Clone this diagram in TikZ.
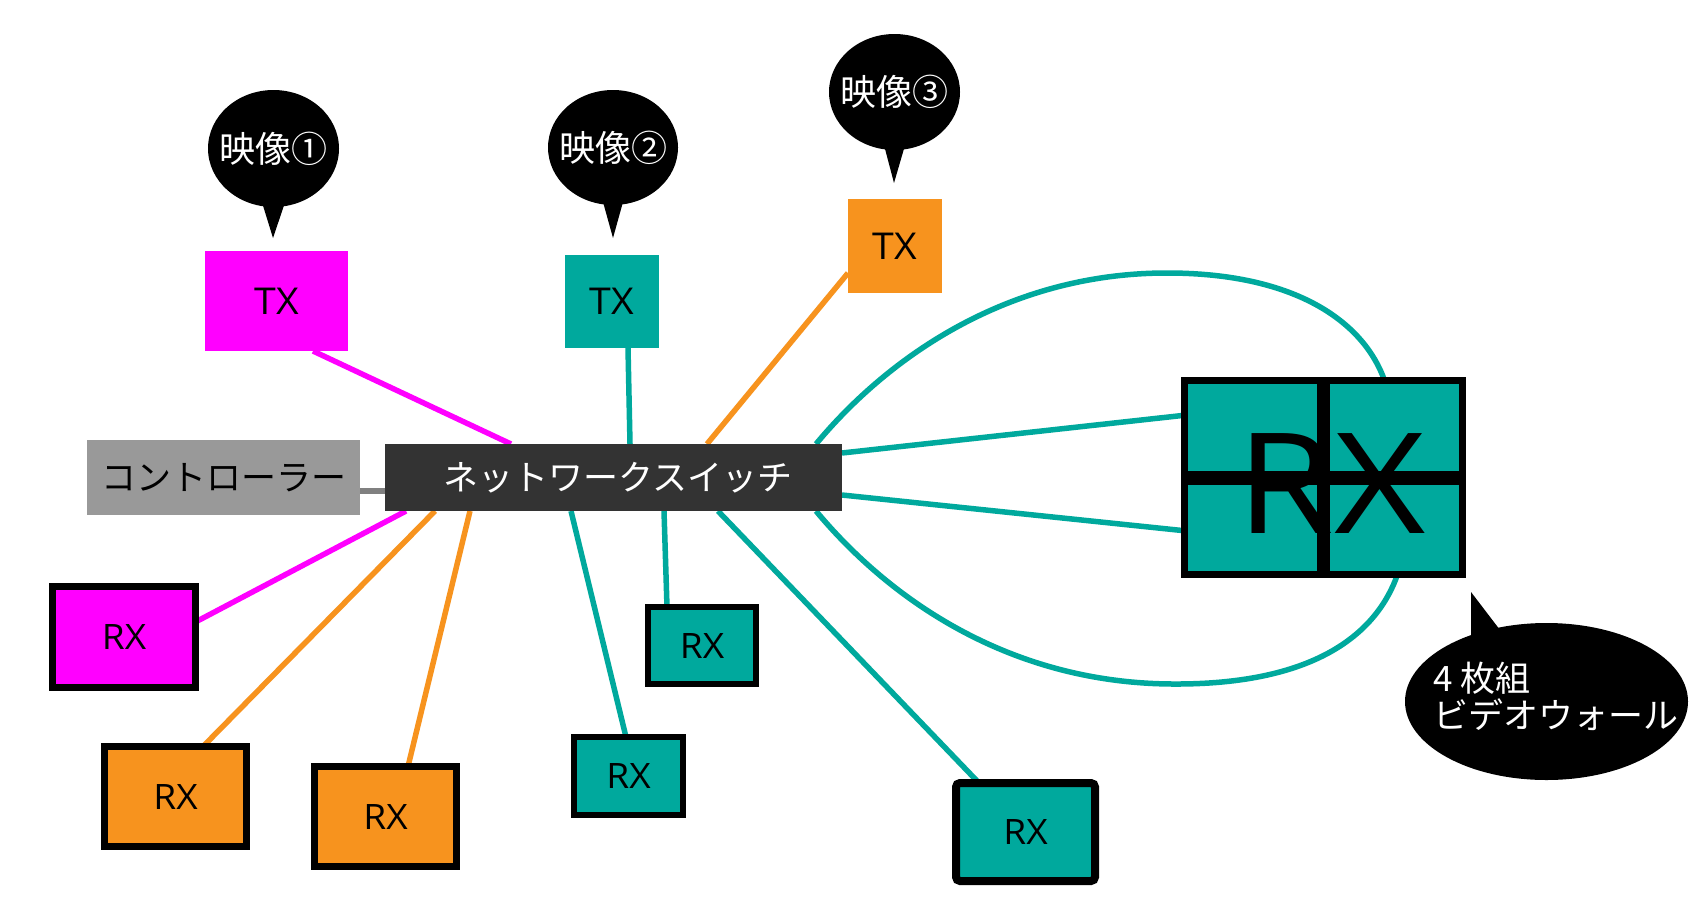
\documentclass[tikz,border=0pt]{standalone}
\usepackage{fontspec}
\setmainfont{Noto Sans CJK JP}
\newfontfamily\latinfont[FakeStretch=1.06]{Open Sans}
\newfontfamily\biglatinfont[FakeStretch=1.13]{Open Sans}
\usetikzlibrary{calc,shapes.geometric}
\definecolor{mag}{HTML}{FF00FF}
\definecolor{tealc}{HTML}{00A99D}
\definecolor{orng}{HTML}{F7931E}
\definecolor{ctrlgray}{HTML}{999999}
\definecolor{swgray}{HTML}{333333}
\definecolor{wiregray}{HTML}{808080}
\pgfdeclarelayer{back}
\pgfdeclarelayer{background}
\pgfsetlayers{back,background,main}
\begin{document}
\begin{tikzpicture}[x=1pt,y=-1pt,
  txbox/.style={rectangle, inner sep=0pt, outer sep=0pt, font=\latinfont\fontsize{37}{40}\selectfont},
  rxbox/.style={rectangle, draw=black, line width=6.5pt, inner sep=0pt, outer sep=0pt, font=\latinfont\fontsize{35}{40}\selectfont},
  wire/.style={line width=5.5pt},
  bubble/.style={ellipse, fill=black, inner sep=0pt, outer sep=0pt},
  bubtxt/.style={text=white, font=\fontsize{36}{40}\selectfont, inner sep=0pt},
  panel/.style={rectangle, draw=black, fill=tealc, line width=7pt, minimum width=136pt, minimum height=93.5pt, inner sep=0pt, outer sep=0pt}
]
\useasboundingbox (0,0) rectangle (1705,921);
\begin{pgfonlayer}{back}
\fill[white] (0,0) rectangle (1705,921);
\end{pgfonlayer}

% speech bubbles
\node[bubble, minimum width=131pt, minimum height=117pt] (b1) at (273.5,148.5) {};
\node[bubtxt] (t1) at (b1) {映像①};
\coordinate (b1tip) at (273,238);
\fill ([xshift=-11pt,yshift=3pt]b1.south) -- (b1tip) -- ([xshift=11pt,yshift=3pt]b1.south) -- cycle;

\node[bubble, minimum width=130pt, minimum height=115pt] (b2) at (613,147.5) {};
\node[bubtxt] (t2) at (b2) {映像②};
\coordinate (b2tip) at (613,238);
\fill ([xshift=-10pt,yshift=3pt]b2.south) -- (b2tip) -- ([xshift=10pt,yshift=3pt]b2.south) -- cycle;

\node[bubble, minimum width=131pt, minimum height=116pt] (b3) at (894.5,92) {};
\node[bubtxt] (t3) at (b3) {映像③};
\coordinate (b3tip) at (894,183);
\fill ([xshift=-10pt,yshift=3pt]b3.south) -- (b3tip) -- ([xshift=10pt,yshift=3pt]b3.south) -- cycle;

\node[bubble, minimum width=283pt, minimum height=157pt] (b4) at (1546.5,701.5) {};
\coordinate (b4tip) at (1471,592);
\fill (b4tip) -- (1471,640) -- (1500,630) -- cycle;
\node[bubtxt, anchor=west, align=left, font=\fontsize{35}{37}\selectfont] (t4) at (1433,696) {4 枚組\\ビデオウォール};

% transmitters
\node[txbox, fill=mag, minimum width=143pt, minimum height=100pt] (tx1) at (276.5,301) {TX};
\node[txbox, fill=tealc, minimum width=94pt, minimum height=93pt] (tx2) at (612,301.5) {TX};
\node[txbox, fill=orng, minimum width=94pt, minimum height=94pt] (tx3) at (895,246) {TX};

% controller and switch
\node[rectangle, fill=ctrlgray, minimum width=273pt, minimum height=75pt, inner sep=0pt, outer sep=0pt, font=\fontsize{35}{40}\selectfont] (ctrl) at (223.5,477.5) {コントローラー};
\node[rectangle, fill=swgray, text=white, minimum width=457pt, minimum height=67pt, inner sep=0pt, outer sep=0pt, font=\fontsize{35}{40}\selectfont] (sw) at (613.5,477.5) {\hspace*{8pt}ネットワークスイッチ};

% receivers
\node[rxbox, fill=mag, minimum width=143pt, minimum height=101pt] (rx1) at (124,637) {RX};
\node[rxbox, fill=orng, minimum width=142pt, minimum height=100pt] (rx2) at (175.5,796.5) {RX};
\node[rxbox, fill=orng, minimum width=142pt, minimum height=100pt] (rx3) at (385.5,816.5) {RX};
\node[rxbox, fill=tealc, line width=6pt, minimum width=109pt, minimum height=78pt] (rx4) at (628.5,776) {RX};
\node[rxbox, fill=tealc, line width=6pt, minimum width=108pt, minimum height=77pt] (rx5) at (702,645.5) {RX};
\node[rxbox, fill=tealc, line width=8pt, rounded corners=4pt, minimum width=139pt, minimum height=98pt] (rx6) at (1025.5,832) {RX};

% video wall
\node[panel] (p1) at (1252.5,427.25) {};
\node[panel] (p2) at (1394.5,427.25) {};
\node[panel] (p3) at (1252.5,527.75) {};
\node[panel] (p4) at (1394.5,527.75) {};
\node[inner sep=0pt, font=\biglatinfont\fontsize{140}{150}\selectfont] (rxbig) at (1331,484) {RX};

% connectors
\begin{pgfonlayer}{background}
\draw[wire, wiregray] ([yshift=-13.5pt]ctrl.east) -- ([yshift=-13.5pt]ctrl.east -| sw.west);
\draw[wire, mag] ([xshift=36.5pt]tx1.south) -- ([xshift=-102.5pt]sw.north);
\draw[wire, tealc] ([xshift=16pt]tx2.south) -- ([xshift=16.5pt]sw.north);
\draw[wire, orng] ([yshift=-27pt]tx3.west) -- ([xshift=93.5pt]sw.north);
\draw[wire, tealc] ([yshift=24.5pt]sw.east) -- ([yshift=12pt]p1.west);
\draw[wire, tealc] ([yshift=-17.5pt]sw.east) -- ([yshift=-3pt]p3.west);
\draw[wire, tealc] ([xshift=-26pt]sw.north east) .. controls (890,355) and (1010,273) .. (1167,273)
   .. controls (1300,273) and (1365,325) .. ([xshift=-10pt]p2.north);
\draw[wire, tealc] ([xshift=-26pt]sw.south east) .. controls (890,600) and (1010,683) .. (1172,684)
   .. controls (1320,685) and (1378,630) .. ([xshift=3pt]p4.south);
\draw[wire, mag] ([xshift=21pt]sw.south west) -- ([yshift=15pt]rx1.east);
\draw[wire, orng] ([xshift=50pt]sw.south west) -- ([xshift=27.5pt]rx2.north);
\draw[wire, orng] ([xshift=85pt]sw.south west) -- ([xshift=22.5pt]rx3.north);
\draw[wire, tealc] ([xshift=186pt]sw.south west) -- ([xshift=-2.5pt]rx4.north);
\draw[wire, tealc] ([xshift=279pt]sw.south west) -- ([xshift=-35pt]rx5.north);
\draw[wire, tealc] ([xshift=333pt]sw.south west) -- ([xshift=-46.5pt]rx6.north);
\end{pgfonlayer}
\end{tikzpicture}
\end{document}
